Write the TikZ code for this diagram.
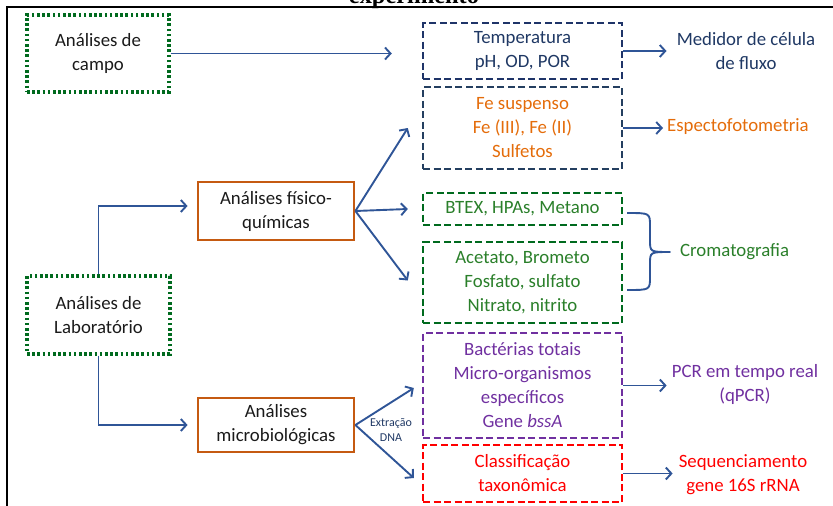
\documentclass[tikz,border=0pt]{standalone}
\usepackage{fontspec}
\setmainfont{Carlito}
\newfontfamily\titlefont{Liberation Serif}
\usetikzlibrary{arrows.meta}
\definecolor{conn}{HTML}{2F5597}
\definecolor{navybox}{HTML}{1F3468}
\definecolor{slatebox}{HTML}{243F60}
\definecolor{navytxt}{HTML}{1F3864}
\definecolor{greenbox}{HTML}{006A1E}
\definecolor{greentxt}{HTML}{2A7F2A}
\definecolor{orangebox}{HTML}{C55A11}
\definecolor{orangetxt}{HTML}{E46C0A}
\definecolor{purplec}{HTML}{7030A0}
\definecolor{redc}{HTML}{FF0000}
\definecolor{maintxt}{HTML}{1A1A1A}
\tikzset{
  txt/.style={font=\fontsize{18.8}{24}\selectfont, align=center, inner sep=0pt},
  dotbox/.style={txt, draw=greenbox, line width=3.2pt, dash pattern=on 2.6pt off 2.6pt, text=maintxt},
  solidbox/.style={txt, draw=orangebox, line width=2.8pt, text=maintxt},
  dashbox/.style={txt, line width=2.4pt, dash pattern=on 7pt off 3.5pt},
  arr/.style={draw=conn, line width=1.9pt, -{Straight Barb[length=5.5pt,width=12pt,line width=1.9pt]}},
  lbl/.style={txt},
}
\begin{document}
\begin{tikzpicture}[x=1pt,y=-1pt]
\useasboundingbox (0,0) rectangle (833,506);
% frame and cut title
\draw[line width=2pt, black] (7,506) -- (7,7) -- (834,7);
\node[anchor=base, inner sep=0pt, font=\titlefont\bfseries\fontsize{24.4}{26}\selectfont] (title) at (414,3) {experimento};

% boxes
\node[dotbox, minimum width=142pt, minimum height=77pt] (campo) at (98,53.5) {Análises de\\campo};
\node[dotbox, minimum width=143pt, minimum height=78pt] (lab) at (98.5,315) {Análises de\\Laboratório};
\node[solidbox, minimum width=156pt, minimum height=58pt] (fq) at (276,211) {Análises físico-\\químicas};
\node[solidbox, minimum width=156pt, minimum height=54pt] (micro) at (276,425) {Análises\\microbiológicas};

\node[dashbox, draw=navybox, text=navytxt, minimum width=199pt, minimum height=56pt] (temp) at (522.5,51) {Temperatura\\pH, OD, POR};
\node[dashbox, draw=slatebox, text=orangetxt, minimum width=199pt, minimum height=82pt] (fe) at (522.5,128) {Fe suspenso\\Fe (III), Fe (II)\\Sulfetos};
\node[dashbox, draw=greenbox, text=greentxt, minimum width=199pt, minimum height=32pt] (btex) at (522.5,209) {BTEX, HPAs, Metano};
\node[dashbox, draw=greenbox, text=greentxt, minimum width=199pt, minimum height=81pt] (acet) at (522.5,282.5) {Acetato, Brometo\\Fosfato, sulfato\\Nitrato, nitrito};
\node[dashbox, draw=purplec, text=purplec, minimum width=199pt, minimum height=105pt] (bact) at (522.5,385.5) {Bactérias totais\\Micro-organismos\\específicos\\Gene \textit{bssA}};
\node[dashbox, draw=redc, text=redc, minimum width=199pt, minimum height=57pt] (class) at (522.5,473.5) {Classificação\\taxonômica};

% right-hand labels
\node[lbl, text=navytxt] (medidor) at (746,51.5) {Medidor de célula\\de fluxo};
\node[lbl, text=orangetxt, anchor=west] (espec) at (667,127) {Espectofotometria};
\node[lbl, text=greentxt, anchor=west] (croma) at (680,252) {Cromatografia};
\node[lbl, text=purplec] (pcr) at (745,384.5) {PCR em tempo real\\(qPCR)};
\node[lbl, text=redc] (seq) at (743,475) {Sequenciamento\\gene 16S rRNA};
\node[inner sep=0pt, align=center, text=navytxt, font=\fontsize{12}{14.5}\selectfont] (dna) at (391,430) {Extração\\DNA};

% connectors
\draw[arr] (campo.east) -- ([xshift=-30pt]temp.west |- campo.east);
\draw[arr] (lab.north) |- ([xshift=-9pt,yshift=5pt]fq.west);
\draw[arr] (lab.south) |- ([xshift=-9pt]micro.west);
\draw[arr] (fq.east) -- ([xshift=-14pt]fe.west);
\draw[arr] (fq.east) -- ([xshift=-14pt]btex.west);
\draw[arr] (fq.east) -- ([xshift=-14pt,yshift=2pt]acet.west);
\draw[arr] (micro.east) -- ([xshift=-8pt,yshift=-2.5pt]bact.west);
\draw[arr] (micro.east) -- ([xshift=-8pt,yshift=-4.5pt]class.west);
\draw[arr] (temp.east) -- ([xshift=-10pt]temp.east -| medidor.west);
\draw[arr] (fe.east) -- ([xshift=-4pt]fe.east -| espec.west);
\draw[arr] (bact.east) -- ([xshift=-5pt]bact.east -| pcr.west);
\draw[arr] (class.east) -- ([xshift=-6pt]class.east -| seq.west);

% brace
\draw[conn, line width=1.9pt, line join=round]
  (627,213) .. controls (650,213) .. (650,226) -- (650,240)
  .. controls (650,252) .. (670,252)
  .. controls (650,252) .. (650,264) -- (650,277)
  .. controls (650,290) .. (627,290);
\end{tikzpicture}
\end{document}
